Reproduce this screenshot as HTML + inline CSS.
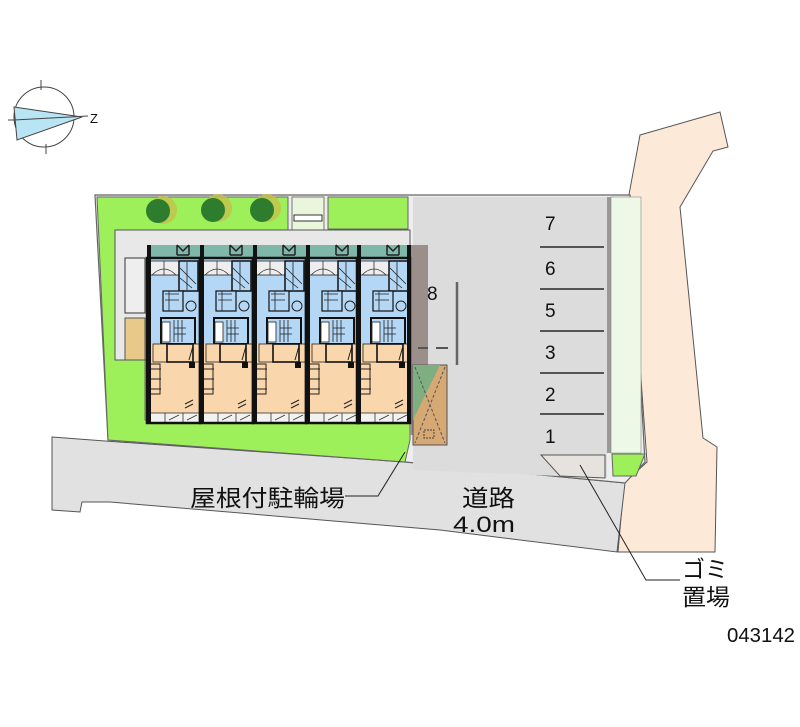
<!DOCTYPE html>
<html><head><meta charset="utf-8"><style>
html,body{margin:0;padding:0;background:#fff;width:800px;height:727px;overflow:hidden}
svg{display:block}
text{font-family:"Liberation Sans","Noto Sans CJK JP",sans-serif;fill:#111}
</style></head><body>
<svg width="800" height="727" viewBox="0 0 800 727" xmlns="http://www.w3.org/2000/svg">
<defs>
<g id="unit">
  <rect x="0" y="0" width="53" height="86" fill="#b3d7f5"/>
  <rect x="0" y="86" width="53" height="69" fill="#fad6ac"/>
  <rect x="0" y="155" width="53" height="10" fill="#f2f2f2"/>
  <rect x="2" y="3" width="30" height="14" fill="#eeeeee" stroke="#222" stroke-width="0.8"/>
  <path d="M17 3 v14 M5 17 q12 -12 24 0" fill="none" stroke="#333" stroke-width="0.8"/>
  <rect x="32" y="3" width="19" height="30" fill="#b3d7f5" stroke="#111" stroke-width="1.5"/>
  <path d="M33 10 l16 16 M33 20 l12 10 M40 4 v28" stroke="#222" stroke-width="0.8"/>
  <path d="M30 -13 l6 6 l6 -6 M30 -13 v10 M42 -13 v10 M30 -3 h12" fill="none" stroke="#222" stroke-width="1.5"/>
  <rect x="16" y="33" width="20" height="20" fill="#b3d7f5" stroke="#111" stroke-width="1.2"/>
  <path d="M18 36 h14 M18 42 h14 M22 33 v20" stroke="#222" stroke-width="0.8"/>
  <circle cx="44" cy="48" r="5" fill="none" stroke="#222" stroke-width="1"/>
  <rect x="14" y="60" width="34" height="26" fill="#b3d7f5" stroke="#111" stroke-width="2"/>
  <path d="M27 62 v22 M31 62 v22 M35 62 v22 M27 70 h12 M27 76 h12" stroke="#222" stroke-width="0.8"/>
  <rect x="15" y="64" width="8" height="20" fill="#fff" stroke="#222" stroke-width="0.8"/>
  <rect x="6" y="86" width="47" height="18" fill="#fad6ac" stroke="#222" stroke-width="0.8"/>
  <rect x="20" y="86" width="26" height="18" fill="none" stroke="#111" stroke-width="1.6"/>
  <path d="M46 88 l-4 14" stroke="#222"/>
  <path d="M4 111 h10 M4 121 h10 M4 131 h10" stroke="#222" stroke-width="1"/>
  <rect x="3" y="106" width="10" height="30" fill="none" stroke="#222" stroke-width="1"/>
  <rect x="42" y="104" width="6" height="6" fill="#111"/>
  <path d="M38 146 l8 -4 M38 150 l8 -4" stroke="#222"/>
  <rect x="0" y="155" width="53" height="10" fill="none" stroke="#333" stroke-width="0.8"/>
  <path d="M18 155 v10 M36 155 v10 M22 162 l10 -5 M40 162 l10 -5" stroke="#333" stroke-width="0.8"/>
  <rect x="0" y="0" width="53" height="165" fill="none" stroke="#111" stroke-width="2.5"/>
  <rect x="0" y="-13" width="4" height="178" fill="#111"/>
</g>
</defs>

<!-- compass -->
<g stroke="#444" fill="none" stroke-width="1">
<circle cx="44" cy="117" r="30"/>
<path d="M41 80 v10 M46 144 v10 M8 120 h10"/>
<polygon points="14,107 82,117 17,140" fill="#b8e4f4" stroke="#444"/>
<path d="M14 120 L88 116"/>
</g>
<text x="90" y="123" font-size="13">Z</text>

<!-- pink road right -->
<polygon points="640,135 720,112 728,147 713,151 680,207 703,438 717,447 715,552 618,552 624,483 647,462 628,200" fill="#fde9d8" stroke="#555" stroke-width="1"/>

<!-- gray road -->
<polygon points="52,437 105,441 405,462 625,483 617,552 440,530 110,502 82,502 80,512 52,510" fill="#e1e1e1" stroke="#555" stroke-width="1"/>

<!-- lot border -->
<polygon points="95,195 630,195 645,462 625,483 405,462 108,440" fill="#eeeeee" stroke="#666" stroke-width="1.2"/>
<!-- left green -->
<polygon points="97,197 288,197 288,230 115,230 115,360 145,360 145,420 410,420 410,440 405,462 108,440" fill="#9ef05a" stroke="#666" stroke-width="1"/>
<rect x="292" y="197" width="32" height="33" fill="#eaf6dc" stroke="#777"/>
<rect x="294" y="215" width="28" height="6" fill="#fff" stroke="#333"/>
<rect x="328" y="197" width="80" height="32" fill="#9ef05a" stroke="#666"/>
<rect x="115" y="230" width="295" height="130" fill="#e8e8e8" stroke="#555"/>
<rect x="125" y="318" width="20" height="42" fill="#e8c98a" stroke="#555"/>
<rect x="125" y="258" width="20" height="55" fill="#eee" stroke="#333"/>
<!-- trees -->
<g>
<circle cx="163" cy="210" r="14" fill="#c4c04a" opacity="0.8"/><circle cx="158" cy="211" r="12" fill="#2e7d2e"/>
<circle cx="218" cy="208" r="14" fill="#c4c04a" opacity="0.8"/><circle cx="213" cy="210" r="12" fill="#2e7d2e"/>
<circle cx="267" cy="208" r="14" fill="#c4c04a" opacity="0.8"/><circle cx="262" cy="210" r="12" fill="#2e7d2e"/>
</g>

<!-- parking -->
<rect x="413" y="197" width="194" height="256" fill="#dcdcdc"/>
<polygon points="413,453 607,453 607,478 413,470" fill="#dcdcdc"/>
<rect x="410" y="245" width="18" height="190" fill="#9c8e8a"/>
<rect x="607" y="197" width="4" height="256" fill="#999"/>
<rect x="611" y="197" width="30" height="256" fill="#eef8e6" stroke="#888" stroke-width="0.6"/>
<polygon points="612,454 645,454 636,476 613,476" fill="#9ef05a" stroke="#666"/>
<polygon points="541,455 605,455 605,478 560,476" fill="#e6e3df" stroke="#555"/>
<g stroke="#555" stroke-width="2">
<path d="M540 247 H604 M540 289 H604 M540 331 H604 M540 373 H604 M540 414 H604"/>
</g>
<path d="M457 282 V365" stroke="#666" stroke-width="2.5"/>
<path d="M418 348 H428 M436 348 H448" stroke="#555" stroke-width="2"/>
<g font-size="19">
<text x="545" y="230">7</text><text x="545" y="275">6</text><text x="545" y="317">5</text>
<text x="545" y="359">3</text><text x="545" y="401">2</text><text x="545" y="443">1</text>
<text x="427" y="300">8</text>
</g>
<!-- bicycle shed -->
<rect x="413" y="365" width="34" height="80" fill="#d6a874" stroke="#555"/>
<polygon points="413,365 440,365 413,420" fill="#7fae80"/>
<path d="M415 367 L445 443 M445 367 L415 443" stroke="#555" stroke-dasharray="3,2"/>
<rect x="424" y="430" width="10" height="8" fill="none" stroke="#444" stroke-dasharray="2,1"/>

<!-- building -->
<rect x="150" y="245" width="260" height="13" fill="#7fb7a8"/>
<use href="#unit" x="147" y="258"/>
<use href="#unit" x="200" y="258"/>
<use href="#unit" x="253" y="258"/>
<use href="#unit" x="306" y="258"/>
<use href="#unit" x="357" y="258"/>
<rect x="407" y="245" width="4" height="178" fill="#111"/>

<!-- leaders -->
<path d="M345 496 H378 L405 452" fill="none" stroke="#222" stroke-width="1"/>
<path d="M580 465 L646 580 H680" fill="none" stroke="#222" stroke-width="1"/>
<text x="190" y="506" font-size="23" textLength="155" lengthAdjust="spacingAndGlyphs">屋根付駐輪場</text>
<text x="462" y="506" font-size="23" textLength="53" lengthAdjust="spacingAndGlyphs">道路</text>
<text x="453" y="532" font-size="22" textLength="62" lengthAdjust="spacingAndGlyphs">4.0m</text>
<text x="682" y="577" font-size="23" textLength="46" lengthAdjust="spacingAndGlyphs">ゴミ</text>
<text x="682" y="605" font-size="23" textLength="48" lengthAdjust="spacingAndGlyphs">置場</text>
<text x="727" y="642" font-size="20" textLength="68" lengthAdjust="spacingAndGlyphs">043142</text>
</svg>
</body></html>
